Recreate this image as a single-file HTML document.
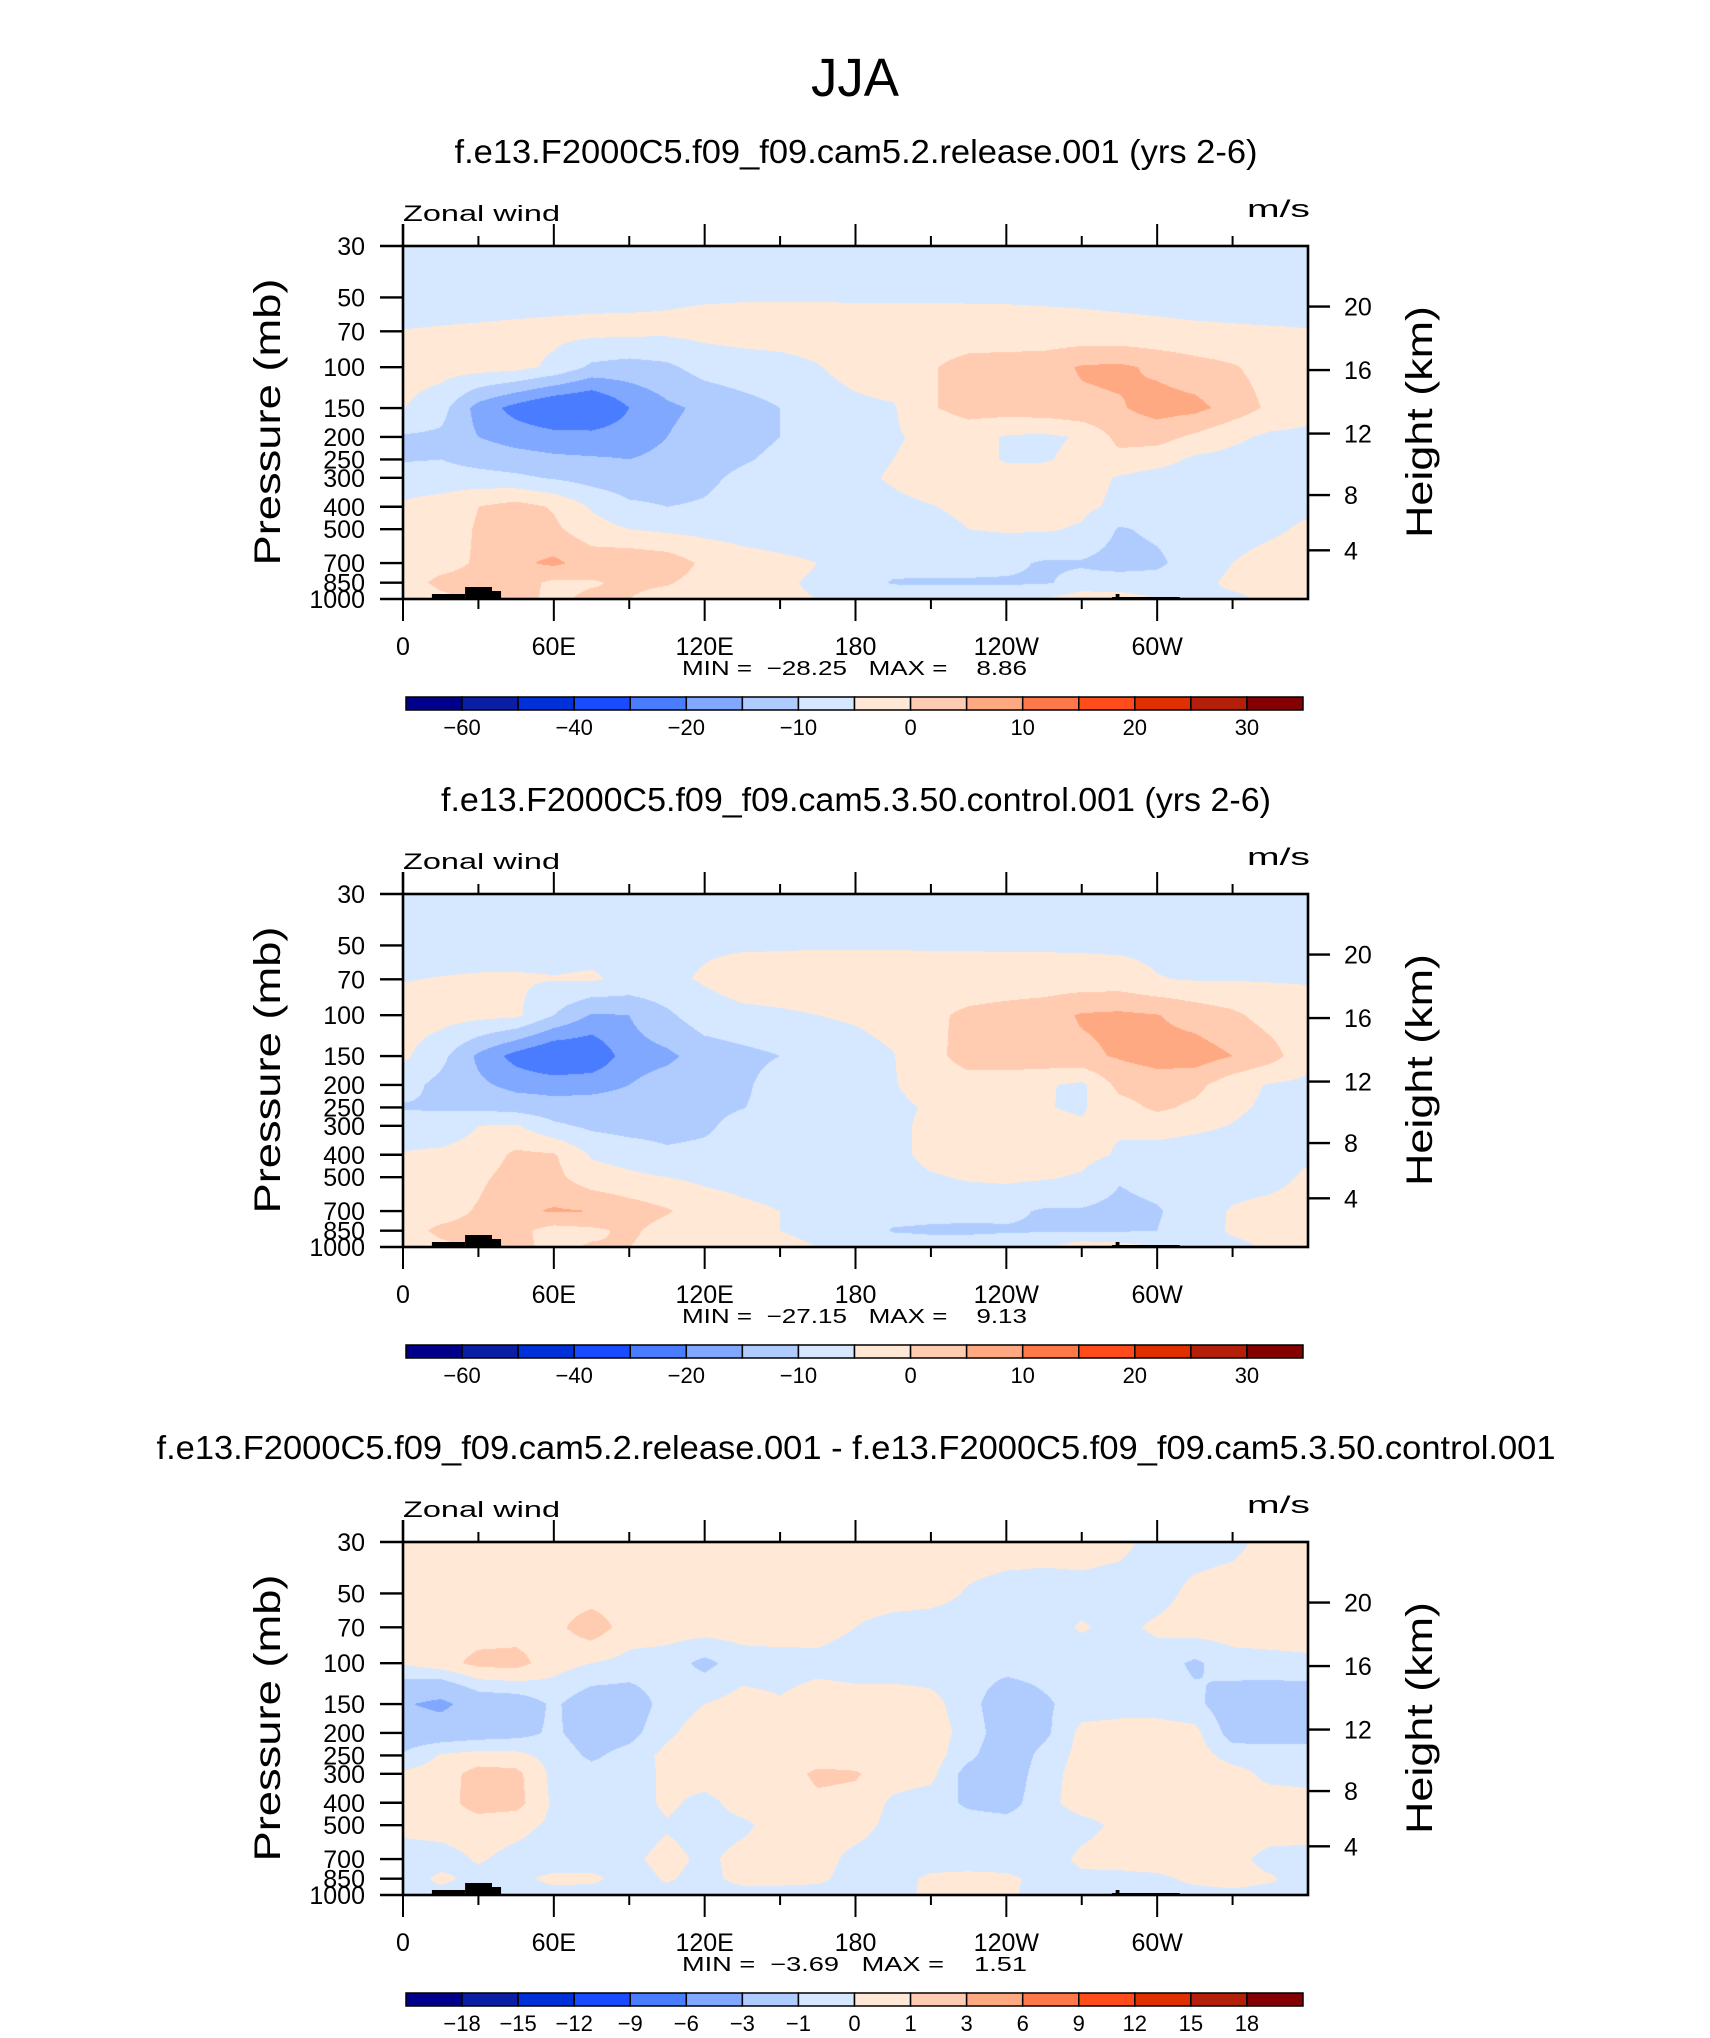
<!DOCTYPE html>
<html><head><meta charset="utf-8">
<style>
html,body{margin:0;padding:0;background:#fff;}
#root{position:relative;width:1710px;height:2038px;overflow:hidden;background:#fff;}
canvas{position:absolute;}
svg{position:absolute;left:0;top:0;}
text{font-family:"Liberation Sans",sans-serif;fill:#000;}
</style></head>
<body>
<div id="root">
<canvas id="c0" width="905" height="353" style="left:403px;top:246px"></canvas>
<canvas id="c1" width="905" height="353" style="left:403px;top:894px"></canvas>
<canvas id="c2" width="905" height="353" style="left:403px;top:1542px"></canvas>
<svg id="ov" width="1710" height="2038"></svg>
</div>
<script>
// ---- data ----
const pressureLevels = [30,50,70,100,150,200,250,300,400,500,700,850,1000];
const longitudes = [0,15,30,45,60,75,90,105,120,135,150,165,180,195,210,225,240,255,270,285,300,315,330,345,360];
const lonTickValues = [0,60,120,180,240,300];
const lonTickLabels = ["0","60E","120E","180","120W","60W"];
const pressureTickLabels = ["30","50","70","100","150","200","250","300","400","500","700","850","1000"];
const heightTickKm = [4,8,12,16,20];
const levelsMain = [-60,-50,-40,-30,-20,-15,-10,-5,0,5,10,15,20,25,30];
const levelLabelsMain = ["-60","","-40","","-20","","-10","","0","","10","","20","","30"];
const levelsDiff = [-18,-15,-12,-9,-6,-3,-1,0,1,3,6,9,12,15,18];
const levelLabelsDiff = ["-18","-15","-12","-9","-6","-3","-1","0","1","3","6","9","12","15","18"];
const fillColors = ["#00008a","#0a1fa6","#0030d8","#1a4cff","#4a7cff","#80a8ff","#b0ccff","#d6e8ff","#ffe9d6","#ffccb2","#ffa982","#ff784a","#ff4c1a","#e03000","#b41f0a","#850000"];
const titles = ["f.e13.F2000C5.f09_f09.cam5.2.release.001 (yrs 2-6)","f.e13.F2000C5.f09_f09.cam5.3.50.control.001 (yrs 2-6)","f.e13.F2000C5.f09_f09.cam5.2.release.001 - f.e13.F2000C5.f09_f09.cam5.3.50.control.001"];
const minValues = ["-28.25","-27.15","-3.69"];
const maxValues = ["8.86","9.13","1.51"];

const windRelease = [
[-8,-8,-8,-8,-8,-8,-8,-8,-8,-8,-8,-8,-8,-8,-8,-8,-8,-8,-8,-8,-8,-8,-8,-8,-8],
[-7,-7,-7,-6.8,-6.5,-6.3,-6,-5.6,-5.4,-5.3,-5.3,-5.3,-5.4,-5.4,-5.4,-5.4,-5.4,-5.5,-5.6,-5.8,-6,-6.3,-6.6,-7,-7],
[-4.9,-4.6,-4.3,-4,-3.8,-3.6,-3.8,-4,-3.5,-3.2,-3,-3,-3,-3,-3,-3.2,-3.4,-3.6,-3.8,-4,-4.2,-4.4,-4.5,-4.6,-4.8],
[-3,-3,-3,-3.5,-6,-11,-12,-11,-8,-7,-6.5,-5.2,-3.5,-2,-0.5,2,2.5,3,5.5,6,4,2,0.5,-2,-3],
[-4.8,-8,-17,-22,-26,-27,-20,-16,-14,-12,-10,-7,-6,-5.5,-0.5,2,2.5,3,4,4.5,7,6.5,3,-1,-3.5],
[-10.5,-11,-15,-17,-18,-18,-17,-15,-13,-11.5,-10,-8,-7,-5.5,-4,-3,-5.5,-6,-4.5,1.5,2,-1,-4,-6,-6],
[-10.5,-10,-12,-13,-14,-14.5,-15,-14,-12,-10.5,-9,-7.5,-6.5,-5,-3.5,-3,-5.5,-5.5,-3.5,-1.5,-3,-6,-6.5,-6.5,-7],
[-7,-7.5,-8,-9,-10.5,-12,-13,-12.5,-11,-9,-8,-7,-6,-4.5,-3,-2.5,-2.5,-2.5,-3,-5.5,-7,-7.5,-7.5,-7.5,-7],
[-4.5,-3,0,2,-0.5,-5.5,-9,-10,-9.5,-8,-7.5,-7,-6.5,-6,-5.2,-4,-3,-3.5,-4,-6,-7.5,-7.5,-7,-7,-6],
[-3,-2.5,0.5,3,1,-3,-5,-6,-6.5,-7,-7.5,-7.5,-7.5,-7,-6.5,-5,-4.5,-4.5,-5.5,-10.5,-9,-7.5,-7,-6,-4],
[-2,-1.5,0.5,4,6,3,4,3,-1,-3,-4,-5,-6,-8,-8.5,-8.5,-9,-10.5,-10.5,-12,-11,-7.5,-5,-3,-2],
[-2,1,1.5,2,-1,-0.5,1,0.5,-2,-3.5,-4.5,-5.5,-7,-10.5,-10.5,-10.5,-10.5,-10.5,-8.5,-7.5,-8,-6.5,-4,-3.5,-3],
[-3,-1,1,1.5,-1,1,0,-2,-3,-4,-4.5,-5,-5.5,-6,-7,-7,-7,-5,-2,-3,-5,-5.5,-6,-4,-3]
];
const windControl = [
[-8,-8,-8,-8,-8,-8,-8,-8,-8,-8,-8,-8,-8,-8,-8,-8,-8,-8,-8,-8,-8,-8,-8,-8,-8],
[-7,-7,-7,-6.8,-6.5,-6.3,-6,-5.8,-5.6,-5.5,-5.4,-5.3,-5.3,-5.3,-5.4,-5.4,-5.5,-5.5,-5.6,-5.8,-6,-6.3,-6.6,-7,-7],
[-5.2,-4.8,-4.5,-4.5,-4.8,-4.5,-6,-6,-4.5,-3,-3,-3,-3,-3,-3,-3,-3,-3,-3,-3,-4.8,-5.3,-5.3,-5.3,-5.3],
[-3,-3,-3.5,-4,-10,-15.5,-15,-11,-7,-6,-5.5,-5,-4.5,-3.5,-1,1,2,3,5.5,6,5.2,3,1,-2,-3.5],
[-4,-8.5,-16,-22,-26,-25,-17,-16,-13,-11.5,-10,-7,-6.5,-5.2,-1.5,2,3,3.5,4,5.5,7,7.5,5,2,-3.5],
[-8,-11.5,-14,-16.5,-17,-16.5,-15,-13,-12,-11,-7.5,-6.5,-6,-5.3,-3,-2,-3,-4.5,-6,1.5,2.5,1.5,-3,-5.5,-6],
[-10.5,-10.5,-11,-12,-13,-13,-13,-12,-11.5,-10.2,-8,-7,-6.5,-6,-4.5,-3,-3.5,-4.8,-5.5,-2,1,-1,-4,-6,-6.5],
[-7,-8,-5,-4.5,-9,-11,-12,-12,-11,-8,-7.5,-7,-6.5,-6,-4,-3,-3,-4,-4.5,-4.5,-3,-4,-5.2,-7,-7],
[-4.8,-4,-3,1,0.5,-5.5,-7,-9,-8.5,-7.5,-7,-7,-7,-6.5,-3.5,-3,-3,-3,-3.5,-5.5,-7,-7.5,-7.5,-7,-6],
[-3.5,-3,-1,2,1.5,-3,-4,-5,-6,-6.5,-7,-7.5,-7.5,-7,-5.5,-4.5,-4,-4.5,-5.5,-9.5,-8,-7.5,-7.5,-7,-4],
[-2,-2,0.5,4,5.5,5,2.5,0.5,-2.5,-4,-5,-6,-6.5,-7.5,-8,-8.5,-9,-10.5,-10.5,-11.5,-10.5,-7.5,-4.5,-3,-2.5],
[-2,1,1.5,1.5,-2,-1,1,-2,-3,-4,-5,-5.5,-6.5,-10.5,-11,-11,-10.5,-10.5,-10.5,-10.5,-10,-7,-4.5,-3.5,-4],
[-3,-1,1,1,-1,0.5,0,-2,-3,-4,-4.5,-5,-5.5,-6,-7,-7,-7,-5.5,-2,-3,-5,-5.5,-6,-4.5,-4]
];
const windDiff = [
[.5,.5,.5,.5,.5,.5,.5,.5,.5,.5,.5,.5,.5,.5,.5,.5,.5,.5,.5,.3,-.4,-.5,-.3,.4,.5],
[.5,.5,.5,.5,.5,.5,.5,.5,.5,.5,.5,.5,.5,.5,.4,-.1,-.4,-.5,-.4,-.5,-.4,.3,.5,.5,.5],
[.5,.5,.5,.5,.7,1.6,.5,.5,.5,.5,.5,.4,0,-.4,-.5,-.5,-.5,-.4,.1,-.3,.2,.5,.5,.5,.5],
[.1,.6,1.3,1.4,.4,0,-.3,-.5,-1.3,-.5,-.4,-.3,-.5,-.5,-.5,-.5,-.5,-.5,-.5,-.5,-.5,-1.2,-.4,-.3,-.2],
[-2.8,-3.5,-2,-1.8,-.8,-1.8,-1.8,-.5,0,.4,.1,.5,.5,.5,.3,-.5,-2,-1.2,-.5,-.3,-.5,-.7,-1.8,-2,-2],
[-1.7,-1.8,-1.6,-1.4,-.8,-1.6,-1.4,-.2,.5,.5,.5,.6,.5,.5,.4,-.3,-1.8,-1.3,.3,.3,.5,.3,-1.5,-1.5,-1.5],
[-.9,.1,.4,.3,-.4,-1.2,-.6,.3,.5,.5,.5,.5,.5,.5,.5,-.7,-2,-.6,.3,.5,.5,.5,-.4,-.5,-.5],
[.2,.5,1.4,1.3,-.3,-.6,-.5,.2,.5,.5,.5,1.2,1.1,.5,.3,-1.5,-1.8,-.4,.4,.5,.5,.5,.4,-.3,-.3],
[.3,.5,1.5,1.4,-.2,-.5,-.5,.2,-.3,.4,.5,.8,.7,-.2,-.5,-1.2,-1.5,-.3,.4,.5,.5,.5,.5,.5,.3],
[.3,.4,.5,.3,-.2,-.5,-.5,-.1,-.4,-.2,.4,.5,.4,-.3,-.5,-.5,-.5,-.5,-.3,.2,.5,.5,.5,.5,.4],
[-.5,-.4,.1,-.3,-.5,-.5,-.2,.3,-.2,.3,.4,.4,-.3,-.5,-.5,-.5,-.5,-.5,.2,.4,.5,.5,.3,-.3,-.3],
[-.5,.2,-.3,-.2,.2,.2,-.4,.1,-.3,.3,.3,.2,-.4,-.4,.2,.3,.2,-.3,-.2,-.3,-.2,.2,.3,.1,-.4],
[-.5,-.3,-.4,-.4,-.3,-.4,-.4,-.3,-.4,-.4,-.4,-.4,-.4,-.3,.2,.2,.2,-.4,-.3,-.4,-.3,-.3,-.2,-.3,-.4]
];
// topography blocks: [lonStart, lonEnd, height px]
const topoLon0 = [11.5,24.7,35.4,282,283.5];
const topoLon1 = [24.7,35.4,39,309,285];
const topoH = [5,12,8,2,5];

// ---- layout ----
const PX = 403, PW = 905, PH = 353;
const panelTops = [246,894,1542];
const lnRange = Math.log(1000/30);
function xOf(lon){ return PX + lon/360*PW; }
function yOfP(p,T){ return T + Math.log(p/30)/lnRange*PH; }
function pOfZ(km){ const z=km*1000; if(z<=11000) return 1013.25*Math.pow(1-2.25577e-5*z,5.25588); return 226.32*Math.exp(-(z-11000)/6341.6); }
function colorIdx(v,levels){ let k=0; for(const L of levels){ if(v>=L) k++; } return k; }
function hex(c){ return [parseInt(c.slice(1,3),16),parseInt(c.slice(3,5),16),parseInt(c.slice(5,7),16)]; }
const rgb = fillColors.map(hex);

function drawField(canvasId, grid, levels){
  const cv=document.getElementById(canvasId), ctx=cv.getContext('2d');
  const img=ctx.createImageData(PW,PH);
  const lnP = pressureLevels.map(p=>Math.log(p));
  const nL = longitudes.length;
  for(let y=0;y<PH;y++){
    const lp = Math.log(30) + (y+0.5)/PH*lnRange;
    let i=0; while(i<lnP.length-2 && lp>lnP[i+1]) i++;
    const t = Math.min(1,Math.max(0,(lp-lnP[i])/(lnP[i+1]-lnP[i])));
    for(let x=0;x<PW;x++){
      const lon=(x+0.5)/PW*360;
      let j=Math.min(nL-2,Math.floor(lon/15));
      const s=(lon-longitudes[j])/(longitudes[j+1]-longitudes[j]);
      const v=(1-t)*((1-s)*grid[i][j]+s*grid[i][j+1])+t*((1-s)*grid[i+1][j]+s*grid[i+1][j+1]);
      const c=rgb[colorIdx(v,levels)];
      const o=(y*PW+x)*4; img.data[o]=c[0];img.data[o+1]=c[1];img.data[o+2]=c[2];img.data[o+3]=255;
    }
  }
  ctx.putImageData(img,0,0);
}
drawField('c0',windRelease,levelsMain);
drawField('c1',windControl,levelsMain);
drawField('c2',windDiff,levelsDiff);

const NS="http://www.w3.org/2000/svg";
const svg=document.getElementById('ov');
function mk(tag,attrs,parent){ const e=document.createElementNS(NS,tag); for(const k in attrs) e.setAttribute(k,attrs[k]); (parent||svg).appendChild(e); return e; }
function txt(str,attrs,parent){ const e=mk('text',attrs,parent); e.textContent=str; return e; }

const jja = txt("JJA",{x:855,y:96,'font-size':54,'text-anchor':'middle',textLength:88,lengthAdjust:'spacingAndGlyphs'});



const titleLens=[803,830,1399];
const panelNames=['release','control','difference'];
for(let k=0;k<3;k++){
  const T=panelTops[k];
  const g=mk('g',{});
  
  
  const tt=txt(titles[k],{x:856,y:T-83,'font-size':33,'text-anchor':'middle',textLength:titleLens[k],lengthAdjust:'spacingAndGlyphs'},g);
  
  
  const zl=txt("Zonal wind",{x:403,y:T-25,'font-size':22,textLength:157,lengthAdjust:'spacingAndGlyphs'},g);
  
  
  const ul=txt("m/s",{x:1310,y:T-29,'font-size':24,'text-anchor':'end',textLength:63,lengthAdjust:'spacingAndGlyphs'},g);
  
  
  // topography
  for(let i=0;i<topoH.length;i++){
    const r=mk('rect',{x:xOf(topoLon0[i]),y:T+PH-topoH[i],width:xOf(topoLon1[i])-xOf(topoLon0[i]),height:topoH[i],fill:'#000'},g);
    
    
  }
  // frame
  const fr=mk('rect',{x:PX,y:T,width:PW,height:PH,fill:'none',stroke:'#000','stroke-width':2.6},g);
  
  
  // lon ticks
  for(let lon=0;lon<=360;lon+=30){
    const major = lon%60===0;
    const len = major?22:10;
    const x=xOf(lon);
    if(lon>0 && lon<360){
      const t1=mk('line',{x1:x,y1:T,x2:x,y2:T-len,stroke:'#000','stroke-width':2},g);
      
      
    } else if(lon===0){
      mk('line',{x1:x,y1:T,x2:x,y2:T-len,stroke:'#000','stroke-width':2.6},g);
    }
    if(lon<360){
      const t2=mk('line',{x1:x,y1:T+PH,x2:x,y2:T+PH+len,stroke:'#000','stroke-width':2},g);
      
      
    }
  }
  for(let i=0;i<lonTickValues.length;i++){
    const l=txt(lonTickLabels[i],{x:xOf(lonTickValues[i]),y:T+409,'font-size':25,'text-anchor':'middle'},g);
    
    
  }
  // pressure ticks
  for(let i=0;i<pressureLevels.length;i++){
    const y=yOfP(pressureLevels[i],T);
    const tk=mk('line',{x1:PX-23,y1:y,x2:PX,y2:y,stroke:'#000','stroke-width':2.4},g);
    
    
    const lb=txt(pressureTickLabels[i],{x:365,y:y+9,'font-size':25,'text-anchor':'end'},g);
    
    
  }
  // height ticks
  for(let i=0;i<heightTickKm.length;i++){
    const y=yOfP(pOfZ(heightTickKm[i]),T);
    const tk=mk('line',{x1:PX+PW,y1:y,x2:PX+PW+22,y2:y,stroke:'#000','stroke-width':2.4},g);
    
    
    const lb=txt(String(heightTickKm[i]),{x:1344,y:y+9,'font-size':25},g);
    
    
  }
  const yl=txt("Pressure (mb)",{x:0,y:0,'font-size':37,'text-anchor':'middle',textLength:287,lengthAdjust:'spacingAndGlyphs',transform:`translate(280,${T+176}) rotate(-90)`},g);
  
  
  const hl=txt("Height (km)",{x:0,y:0,'font-size':37,'text-anchor':'middle',textLength:232,lengthAdjust:'spacingAndGlyphs',transform:`translate(1432,${T+176}) rotate(-90)`},g);
  
  
  const mm=txt(`MIN =  ${minValues[k].replace('-','\u2212')}   MAX =    ${maxValues[k]}`,{x:682,y:T+429,'font-size':20,textLength:345,lengthAdjust:'spacingAndGlyphs',style:'white-space:pre'},g);
  
  
  // colorbar
  const cb=mk('g',{},g);
  
  
  const cx0=406, cx1=1303, bw=(cx1-cx0)/16, cy=T+451, ch=13;
  for(let i=0;i<16;i++){
    const r=mk('rect',{x:cx0+i*bw,y:cy,width:bw,height:ch,fill:fillColors[i],stroke:'#000','stroke-width':1.5},cb);
    
    
  }
  const labs = k<2?levelLabelsMain:levelLabelsDiff;
  for(let i=0;i<labs.length;i++){
    if(!labs[i]) continue;
    const l=txt(labs[i].replace('-','\u2212'),{x:cx0+(i+1)*bw,y:T+489,'font-size':22,'text-anchor':'middle'},cb);
    
    
  }
}
</script>
</body></html>
